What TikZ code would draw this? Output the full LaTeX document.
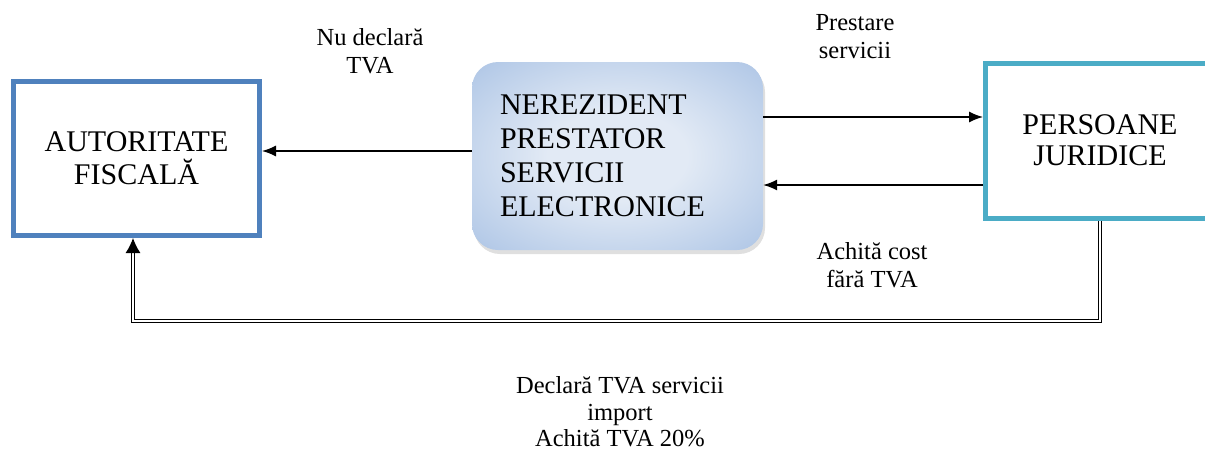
\documentclass[tikz,border=0pt]{standalone}
\usepackage{fontspec}
\setmainfont{Liberation Serif}
\newfontfamily\tnr{Liberation Serif}
\usetikzlibrary{arrows.meta,shadows}

\definecolor{afblue}{RGB}{79,129,189}
\definecolor{pjteal}{RGB}{75,172,198}
\definecolor{nrzout}{RGB}{135,166,210}
\definecolor{nrzmid}{RGB}{182,203,232}
\definecolor{nrzin}{RGB}{226,234,245}
\pgfdeclareradialshading{nrzshade}{\pgfpoint{0bp}{0bp}}{color(0bp)=(nrzin); color(12bp)=(nrzin); color(32bp)=(nrzmid); color(50bp)=(nrzout); color(80bp)=(nrzout)}

\begin{document}
\begin{tikzpicture}[x=1pt,y=-1pt,font=\tnr]
\tikzset{
% box styles: plain frame and shaded rounded box
frame box/.style={draw,line width=5pt,inner sep=0,align=center,font=\tnr\fontsize{30}{33}\selectfont},
shaded box/.style={rounded corners=26pt,shading=nrzshade,
  drop shadow={opacity=0.25,shadow xshift=2pt,shadow yshift=-4pt},
  align=left,inner xsep=28pt,text width=235pt,font=\tnr\fontsize{30}{34}\selectfont},
flow label/.style={align=center,font=\tnr\fontsize{24.5}{28}\selectfont},
flow/.style={-{Latex[length=14pt,width=11pt]},line width=1.3pt},
dbl flow/.style={-{Latex[length=15pt,width=15pt]},double,double distance=2pt,line width=1.2pt}
}
\useasboundingbox (0,0) rectangle (1205,453);
\clip (0,0) rectangle (1205,453);

% The boxes
\node(af)[frame box,draw=afblue,minimum width=246pt,minimum height=154.5pt] at (136.5,158.25) {AUTORITATE\\ FISCALĂ};
\node(nrz)[shaded box,minimum width=291pt,minimum height=188pt] at (617.5,156) {NEREZIDENT\\ PRESTATOR\\ SERVICII\\ ELECTRONICE};
\node(pj)[frame box,draw=pjteal,minimum width=229.5pt,minimum height=155pt] at (1100.25,141) {};
\node(pjtext)[align=center,font=\tnr\fontsize{30}{31}\selectfont] at (1100,140) {PERSOANE\\ JURIDICE};

% Flows
\draw[flow] ([yshift=5pt]nrz.west) -- ([yshift=7.25pt]af.east);
\draw[flow] ([yshift=39pt]nrz.east) -- ([yshift=24pt]pj.west);
\draw[flow] ([yshift=-44pt]pj.west) -- ([yshift=-29pt]nrz.east);
\draw[dbl flow] (pj.south) -- ++(0,100) -| ([xshift=-3.5pt]af.south);

% Labels
\node(nudecl)[flow label] at (370,51) {Nu declară\\ TVA};
\node(prest)[flow label] at (855,37) {Prestare\\ servicii};
\node(achcost)[flow label] at (872,265) {Achită cost\\ fără TVA};
\node(decl)[flow label,font=\tnr\fontsize{24.5}{26.5}\selectfont] at (620,412) {Declară TVA servicii\\ import\\ Achită TVA 20\%};
\end{tikzpicture}
\end{document}
